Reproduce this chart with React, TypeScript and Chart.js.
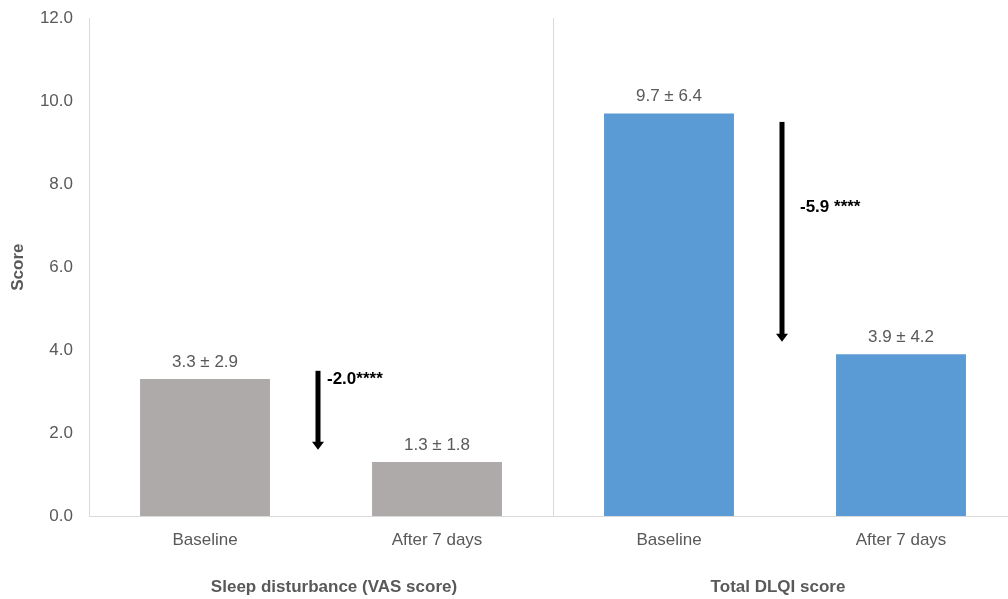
import React, { useEffect, useRef } from "react";
import { Chart, registerables } from "chart.js";

Chart.register(...registerables);

const categories = ["Baseline", "After 7 days", "Baseline", "After 7 days"];
const means = [3.3, 1.3, 9.7, 3.9];
const sds = [2.9, 1.8, 6.4, 4.2];
const barColors = ["#aeaaaa", "#aeaaaa", "#5b9bd5", "#5b9bd5"];
const groupTitles = ["Sleep disturbance (VAS score)", "Total DLQI score"];
// change arrows between paired bars: arrow runs from `from` down to `to`
const changeLabels = ["-2.0****", "-5.9 ****"];
const changeFrom = [3.5, 9.5];
const changeTo = [1.6, 4.2];
const changeLabelAt = [3.3, 7.45];

const FONT = "'Liberation Sans', Arial, sans-serif";
const TEXT = "#595959";

const overlayPlugin = {
  id: "overlay",
  afterDatasetsDraw(chart: any) {
    const { ctx, scales, chartArea } = chart;
    const x = scales.x;
    const y = scales.y;
    ctx.save();

    // value labels above bars
    ctx.font = `17px ${FONT}`;
    ctx.fillStyle = TEXT;
    ctx.textAlign = "center";
    ctx.textBaseline = "middle";
    means.forEach((m, i) => {
      const px = x.getPixelForValue(i);
      const py = y.getPixelForValue(m);
      ctx.fillText(`${m.toFixed(1)} ± ${sds[i].toFixed(1)}`, px, py - 17);
    });

    // separator between the two groups
    const sepX = (x.getPixelForValue(1) + x.getPixelForValue(2)) / 2;
    ctx.strokeStyle = "#d9d9d9";
    ctx.lineWidth = 1;
    ctx.beginPath();
    ctx.moveTo(Math.round(sepX) + 0.5, chartArea.top);
    ctx.lineTo(Math.round(sepX) + 0.5, chartArea.bottom);
    ctx.stroke();

    // change arrows
    changeLabels.forEach((label, g) => {
      const ax = (x.getPixelForValue(g * 2) + x.getPixelForValue(g * 2 + 1)) / 2 - 3;
      const y0 = y.getPixelForValue(changeFrom[g]);
      const y1 = y.getPixelForValue(changeTo[g]);
      ctx.fillStyle = "#000";
      ctx.fillRect(ax - 2.5, y0, 5, y1 - y0 - 6);
      ctx.beginPath();
      ctx.moveTo(ax - 6, y1 - 8);
      ctx.lineTo(ax + 6, y1 - 8);
      ctx.lineTo(ax, y1);
      ctx.closePath();
      ctx.fill();

      ctx.font = `bold 17px ${FONT}`;
      ctx.textAlign = "left";
      ctx.textBaseline = "middle";
      ctx.fillText(label, ax + (g === 0 ? 9 : 18), y.getPixelForValue(changeLabelAt[g]));
    });

    // group titles under the category labels
    ctx.font = `bold 17px ${FONT}`;
    ctx.fillStyle = TEXT;
    ctx.textAlign = "center";
    ctx.textBaseline = "middle";
    const titleShift = [13, -7];
    groupTitles.forEach((t, g) => {
      const gx = (x.getPixelForValue(g * 2) + x.getPixelForValue(g * 2 + 1)) / 2;
      ctx.fillText(t, gx + titleShift[g], chartArea.bottom + 71);
    });

    ctx.restore();
  },
};

export default function App() {
  const ref = useRef<HTMLCanvasElement>(null);

  useEffect(() => {
    if (!ref.current) return;
    const chart = new Chart(ref.current, {
      type: "bar",
      data: {
        labels: categories,
        datasets: [
          {
            data: means,
            backgroundColor: barColors,
            borderWidth: 0,
            barPercentage: 0.56,
            categoryPercentage: 1,
          },
        ],
      },
      options: {
        responsive: false,
        animation: false,
        devicePixelRatio: 1,
        layout: { padding: 0 },
        plugins: {
          legend: { display: false },
          tooltip: { enabled: false },
        },
        scales: {
          x: {
            offset: true,
            grid: { display: false, drawTicks: false },
            border: { display: true, color: "#d9d9d9", width: 1 },
            ticks: {
              color: TEXT,
              font: { family: FONT, size: 17 },
              padding: 14,
              maxRotation: 0,
            },
            afterFit: (s: any) => {
              s.height = 83;
            },
          },
          y: {
            min: 0,
            max: 12,
            grid: { display: false, drawTicks: false },
            border: { display: true, color: "#d9d9d9", width: 1 },
            ticks: {
              stepSize: 2,
              color: TEXT,
              font: { family: FONT, size: 17 },
              padding: 16,
              callback: (v: any) => Number(v).toFixed(1),
            },
            title: {
              display: true,
              text: "Score",
              color: TEXT,
              font: { family: FONT, size: 17, weight: "bold" },
              padding: { top: 8, bottom: 0 },
            },
            afterFit: (s: any) => {
              s.width = 89;
            },
          },
        },
      },
      plugins: [overlayPlugin],
    });
    return () => chart.destroy();
  }, []);

  return (
    <div
      style={{
        position: "absolute",
        left: 0,
        top: 0,
        width: 1008,
        height: 599,
        overflow: "hidden",
        background: "#fff",
      }}
    >
      <canvas
        ref={ref}
        width={1017}
        height={607}
        style={{ display: "block", marginTop: -8 }}
      />
    </div>
  );
}
